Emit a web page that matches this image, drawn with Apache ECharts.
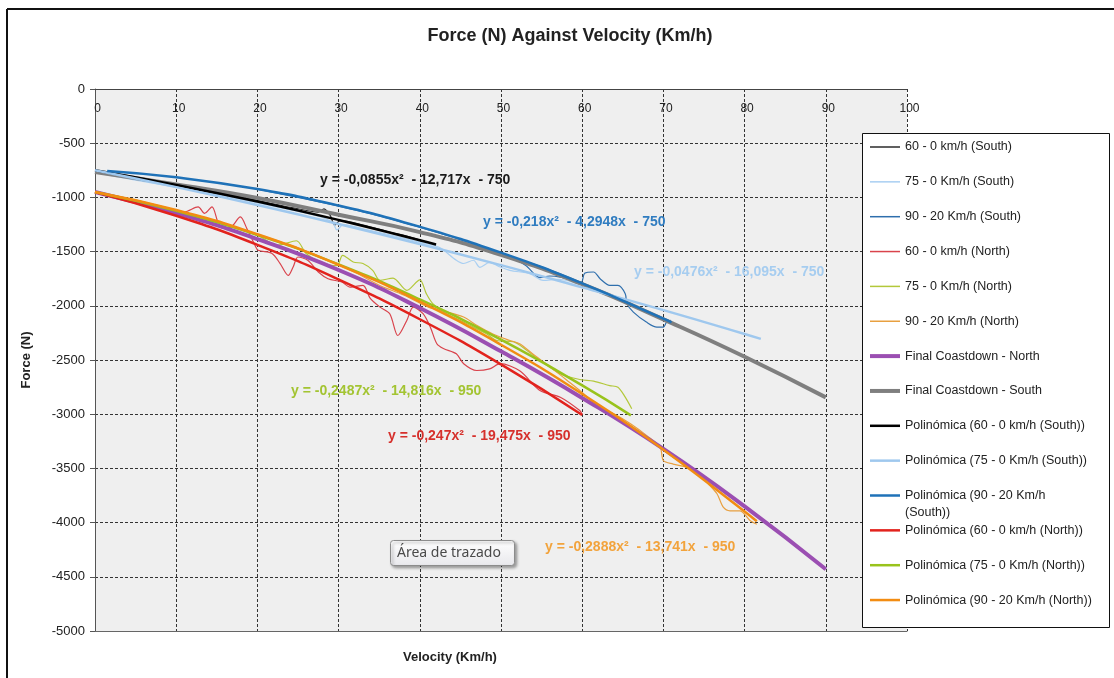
<!DOCTYPE html>
<html>
<head>
<meta charset="utf-8">
<script src="https://cdn.jsdelivr.net/npm/echarts@6/dist/echarts.min.js"></script>
<style>
  html, body { margin: 0; padding: 0; background: #ffffff; }
  #chart { width: 1114px; height: 678px; }
</style>
</head>
<body>
<div id="chart"></div>
<script>
// Each point is [velocity (km/h), force (N)]

// Measured coastdown runs
const south60Raw = [[0,-760],[5,-825],[10,-885],[15,-955],[20,-1030],[25,-1105],[27.5,-1135],[28.2,-1105],[29,-1170],[29.5,-1255],[30.2,-1215],[33,-1255],[36,-1315],[39,-1370],[42,-1440]];
const south75Raw = [[0,-770],[5,-840],[10,-905],[15,-975],[20,-1050],[25,-1130],[28,-1185],[29.3,-1235],[29.8,-1300],[30.6,-1250],[33,-1290],[36,-1340],[39,-1395],[41,-1430],[42.5,-1465],[44.5,-1580],[45.4,-1610],[46.6,-1580],[47.4,-1645],[48.6,-1600],[49.9,-1642],[51.1,-1673],[53.6,-1705],[55.2,-1765],[57,-1755],[59.7,-1800],[62,-1850],[64,-1925]];
const south90Raw = [[20,-925],[25,-1000],[30,-1080],[35,-1170],[40,-1275],[45,-1390],[50,-1515],[53,-1625],[54.8,-1740],[56,-1725],[57.3,-1735],[58.9,-1765],[59.9,-1781],[60.3,-1700],[61.4,-1688],[62.2,-1750],[63.4,-1811],[64.4,-1811],[65.3,-1888],[65.5,-1980],[66.3,-2058],[67.9,-2150],[69.2,-2197],[70,-2197],[70.4,-2150],[70.9,-2135]];
const north60Raw = [[0,-950],[3,-1010],[6,-1070],[9,-1120],[11,-1134],[12.7,-1088],[13.5,-1147],[14.4,-1088],[15.2,-1240],[15.8,-1286],[16.8,-1272],[17.9,-1180],[18.7,-1287],[19.7,-1442],[20.1,-1488],[21.8,-1517],[22.8,-1610],[23.8,-1719],[24.4,-1642],[25,-1550],[26.2,-1580],[27.5,-1688],[28.7,-1750],[30.4,-1781],[31.4,-1827],[33,-1811],[33.9,-1932],[35.1,-2012],[36.3,-2073],[37.3,-2274],[38.4,-2135],[39.2,-2012],[40.4,-2073],[41.3,-2197],[42.1,-2350],[42.9,-2394],[44.5,-2443],[45.4,-2534],[47,-2597],[48.6,-2582],[49.9,-2534],[52.3,-2600],[54.8,-2782],[57.3,-2844],[59.7,-2966],[60,-3000]];
const north75Raw = [[0,-950],[5,-1035],[10,-1125],[15,-1235],[20,-1350],[22.5,-1440],[24.8,-1400],[26,-1517],[27.7,-1596],[29.8,-1630],[30.5,-1534],[31.8,-1596],[33,-1610],[34.2,-1673],[35.1,-1765],[36.7,-1745],[38.4,-1857],[40,-1760],[40.8,-1888],[41.6,-1980],[43.3,-2073],[45,-2135],[46.6,-2197],[48.2,-2258],[49.5,-2320],[51.5,-2330],[53.2,-2412],[54.8,-2505],[57.3,-2627],[59.7,-2680],[61.4,-2695],[63.4,-2736],[64.4,-2751],[65.3,-2843],[66.1,-2950]];
const north90Raw = [[20,-1340],[23,-1420],[26,-1500],[29,-1590],[32,-1690],[35,-1810],[38,-1900],[41,-2010],[43,-2050],[45.4,-2104],[47,-2180],[49,-2260],[51.1,-2320],[52.3,-2350],[54,-2450],[56,-2560],[58,-2680],[60,-2800],[62,-2930],[64,-3000],[66,-3090],[68,-3200],[69.6,-3305],[70,-3429],[71.2,-3460],[72.9,-3490],[74.5,-3550],[75.5,-3640],[76.6,-3734],[77.4,-3860],[78.2,-3891],[79.4,-3891],[80.7,-3983],[81.5,-4015]];

// Final coastdown curves
const finalNorth = [[0,-950],[10,-1145],[20,-1385],[30,-1670],[40,-2020],[50,-2420],[60,-2850],[70,-3320],[80,-3850],[90,-4430]];
const finalSouth = [[0,-765],[10,-880],[20,-1005],[30,-1160],[40,-1320],[50,-1530],[60,-1800],[70,-2125],[80,-2470],[90,-2845]];

// Polynomial trend lines
const south60Trend = [[0,-750],[10,-886],[20,-1038],[30,-1208],[40,-1396],[42,-1435]];
const south75Trend = [[0,-750],[10,-905],[20,-1070],[30,-1245],[40,-1430],[50,-1625],[60,-1830],[70,-2040],[80,-2260],[82,-2305]];
const south90Trend = [[1.5,-757],[10,-815],[20,-923],[30,-1075],[40,-1271],[50,-1510],[60,-1793],[70,-2119],[71,-2154]];
const north60Trend = [[0,-950],[10,-1169],[20,-1438],[30,-1757],[40,-2124],[50,-2541],[60,-3007]];
const north75Trend = [[0,-950],[10,-1123],[20,-1346],[30,-1618],[40,-1941],[50,-2313],[60,-2734],[66,-3011]];
const north90Trend = [[0,-950],[10,-1116],[20,-1340],[30,-1622],[40,-1962],[50,-2359],[60,-2814],[70,-3327],[80,-3897],[81.5,-3988]];

const seriesNames = [
  '60 - 0 km/h (South)', '75 - 0 Km/h (South)', '90 - 20 Km/h (South)',
  '60 - 0 km/h (North)', '75 - 0 Km/h (North)', '90 - 20 Km/h (North)',
  'Final Coastdown - North', 'Final Coastdown - South',
  'Polinómica (60 - 0 km/h (South))', 'Polinómica (75 - 0 Km/h (South))',
  'Polinómica (90 - 20 Km/h (South))', 'Polinómica (60 - 0 km/h (North))',
  'Polinómica (75 - 0 Km/h (North))', 'Polinómica (90 - 20 Km/h (North))'
];

const trendEquations = [
  'y = -0,0855x²  - 12,717x  - 750',
  'y = -0,218x²  - 4,2948x  - 750',
  'y = -0,0476x²  - 16,095x  - 750',
  'y = -0,2487x²  - 14,816x  - 950',
  'y = -0,247x²  - 19,475x  - 950',
  'y = -0,2888x²  - 13,741x  - 950'
];

const FONT = 'Liberation Sans, Arial, sans-serif';
const chart = echarts.init(document.getElementById('chart'));

// line-sample icons for the legend, one per stroke weight
const ICON_THIN = 'path://M0,0H30V1.5H0Z';
const ICON_TREND = 'path://M0,0H30V2.5H0Z';
const ICON_FINAL = 'path://M0,0H30V4H0Z';

function line(name, data, color, width, smooth) {
  return {
    name: name,
    type: 'line',
    data: data,
    symbol: 'none',
    smooth: smooth,
    lineStyle: { color: color, width: width },
    itemStyle: { color: color },
    emphasis: { disabled: true },
    silent: true
  };
}

const series = [
  line(seriesNames[0], south60Raw, '#2b2b2b', 1.2, 0.3),
  line(seriesNames[1], south75Raw, '#a9cff2', 1.2, 0.3),
  line(seriesNames[2], south90Raw, '#2f6fad', 1.2, 0.3),
  line(seriesNames[3], north60Raw, '#d9434c', 1.2, 0.3),
  line(seriesNames[4], north75Raw, '#b3c83a', 1.2, 0.3),
  line(seriesNames[5], north90Raw, '#e8a040', 1.2, 0.3),
  line(seriesNames[6], finalNorth, '#9b4fb2', 4, true),
  line(seriesNames[7], finalSouth, '#7f7f7f', 4, true),
  line(seriesNames[8], south60Trend, '#000000', 2.5, true),
  line(seriesNames[9], south75Trend, '#9fc8ee', 2.5, true),
  line(seriesNames[10], south90Trend, '#1f72b8', 2.5, true),
  line(seriesNames[11], north60Trend, '#e2231d', 2.5, true),
  line(seriesNames[12], north75Trend, '#99c31c', 2.5, true),
  line(seriesNames[13], north90Trend, '#f28c12', 2.5, true)
];

const legendData = seriesNames.map(function (n, i) {
  return { name: n, icon: i < 6 ? ICON_THIN : (i < 8 ? ICON_FINAL : ICON_TREND) };
});

const eqStyle = [
  { x: 320, y: 180, fill: '#1a1a1a' },
  { x: 483, y: 222, fill: '#2f7cc0' },
  { x: 634, y: 272, fill: '#a6cdf0' },
  { x: 291, y: 391, fill: '#a3c432' },
  { x: 388, y: 436, fill: '#d6302c' },
  { x: 545, y: 547, fill: '#f2a33c' }
];

const graphics = [
  // chart frame
  { type: 'line', z: 100, shape: { x1: 7, y1: 9, x2: 1114, y2: 9 }, style: { stroke: '#111', lineWidth: 2 } },
  { type: 'line', z: 100, shape: { x1: 7, y1: 9, x2: 7, y2: 678 }, style: { stroke: '#111', lineWidth: 2 } },
  // legend box
  { type: 'rect', z: 50, shape: { x: 862.5, y: 133.5, width: 247, height: 494 },
    style: { fill: '#ffffff', stroke: '#111', lineWidth: 1 } },
  { type: 'text', z: 70, x: 905, y: 513,
    style: { text: '(South))', font: '12.5px ' + FONT, fill: '#222', verticalAlign: 'middle' } },
  // plot-area hint box
  { type: 'rect', z: 80, shape: { x: 390.5, y: 540.5, width: 124, height: 25, r: 3 },
    style: {
      fill: new echarts.graphic.LinearGradient(0, 0, 0, 1, [{ offset: 0, color: '#ffffff' }, { offset: 1, color: '#e8e8ec' }]),
      stroke: '#8c8c8c', lineWidth: 1,
      shadowBlur: 3, shadowColor: 'rgba(0,0,0,0.35)', shadowOffsetX: 2, shadowOffsetY: 2
    } },
  { type: 'text', z: 81, x: 397, y: 553,
    style: { text: 'Área de trazado', font: '14px Noto Sans, sans-serif', fill: '#4a4a4a', verticalAlign: 'middle' } }
];

trendEquations.forEach(function (t, i) {
  graphics.push({
    type: 'text', z: 60, x: eqStyle[i].x, y: eqStyle[i].y,
    style: { text: t, font: 'bold 14px ' + FONT, fill: eqStyle[i].fill, verticalAlign: 'middle' }
  });
});

chart.setOption({
  animation: false,
  backgroundColor: '#ffffff',
  title: {
    text: 'Force (N) Against Velocity (Km/h)',
    left: 565, top: 22, textAlign: 'center',
    textStyle: { fontFamily: FONT, fontSize: 18, fontWeight: 'bold', color: '#222' }
  },
  legend: {
    orient: 'vertical', left: 870, top: 140, z: 60,
    itemWidth: 30, itemHeight: 14, itemGap: 20.85, padding: 0,
    data: legendData,
    selectedMode: false,
    formatter: function (name) {
      return name === 'Polinómica (90 - 20 Km/h (South))' ? 'Polinómica (90 - 20 Km/h' : name;
    },
    textStyle: { fontFamily: FONT, fontSize: 12.5, color: '#222', lineHeight: 14, height: 14 }
  },
  grid: {
    left: 95, top: 89, width: 812, height: 542,
    show: true, backgroundColor: '#efefef', borderWidth: 0
  },
  xAxis: [
    {
      type: 'value', min: 0, max: 100, interval: 10, position: 'top',
      axisLine: { show: true, onZero: false, lineStyle: { color: '#444', width: 1 } },
      axisTick: { show: false },
      axisLabel: { inside: true, margin: 14, fontFamily: FONT, fontSize: 12, color: '#222', padding: [0, 0, 0, 5] },
      splitLine: { show: true, lineStyle: { color: '#333', type: [3, 2], width: 1 } }
    },
    {
      type: 'value', min: 0, max: 100, position: 'bottom',
      axisLine: { show: true, onZero: false, lineStyle: { color: '#666', width: 1 } },
      axisTick: { show: false }, axisLabel: { show: false }, splitLine: { show: false },
      name: 'Velocity (Km/h)', nameLocation: 'middle', nameGap: 20,
      nameTextStyle: { fontFamily: FONT, fontSize: 13, fontWeight: 'bold', color: '#222', padding: [0, 102, 0, 0] }
    }
  ],
  yAxis: {
    type: 'value', min: -5000, max: 0, interval: 500,
    axisLine: { show: true, onZero: false, lineStyle: { color: '#555', width: 1 } },
    axisTick: { show: true, length: 5, lineStyle: { color: '#555' } },
    axisLabel: { margin: 10, fontFamily: FONT, fontSize: 13, color: '#222', formatter: function (v) { return String(v); } },
    splitLine: { show: true, lineStyle: { color: '#333', type: [3, 2], width: 1 } },
    name: 'Force (N)', nameLocation: 'middle', nameGap: 62, nameRotate: 90,
    nameTextStyle: { fontFamily: FONT, fontSize: 13, fontWeight: 'bold', color: '#222' }
  },
  graphic: graphics,
  series: series
});
</script>
</body>
</html>
